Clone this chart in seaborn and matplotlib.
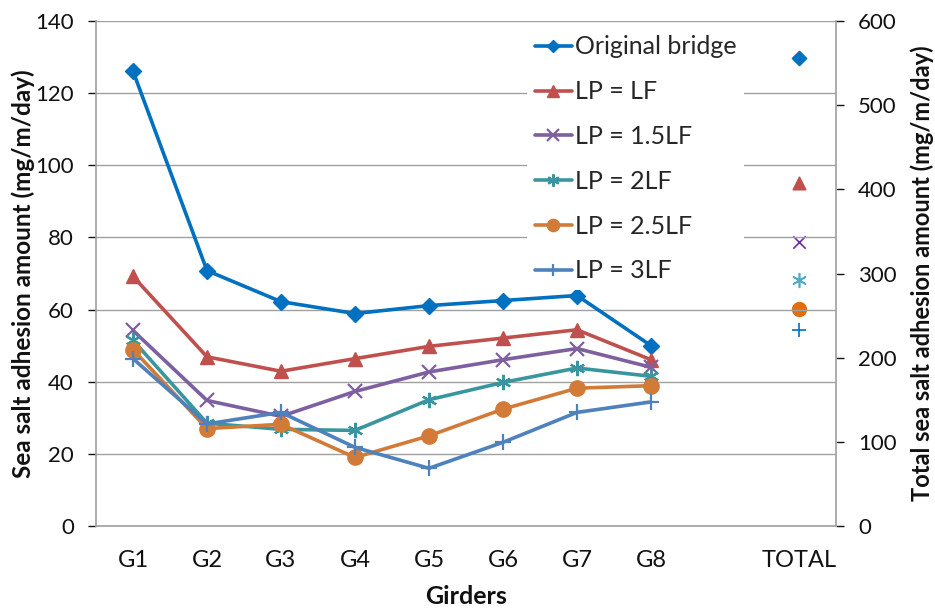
import matplotlib
matplotlib.use("Agg")
import matplotlib.pyplot as plt
import seaborn as sns
import numpy as np

# Categories along the x axis (blank slot separates girders from the total)
categories = ["G1", "G2", "G3", "G4", "G5", "G6", "G7", "G8", "", "TOTAL"]
girders = ["G1", "G2", "G3", "G4", "G5", "G6", "G7", "G8"]

series_names = ["Original bridge", "LP = LF", "LP = 1.5LF", "LP = 2LF", "LP = 2.5LF", "LP = 3LF"]

original = [126.1, 70.8, 62.2, 58.9, 61.1, 62.5, 63.9, 50.0]
lp_1 = [69.2, 46.9, 42.9, 46.4, 49.8, 52.1, 54.4, 46.1]
lp_15 = [54.2, 34.8, 30.4, 37.3, 42.7, 46.1, 49.2, 44.0]
lp_2 = [51.5, 28.5, 26.8, 26.5, 35.0, 39.8, 43.8, 41.5]
lp_25 = [48.9, 27.0, 28.2, 19.0, 25.0, 32.4, 38.2, 38.9]
lp_3 = [46.4, 28.3, 31.5, 21.8, 16.0, 23.2, 31.5, 34.4]

# Totals per case (right axis)
totals = [555.5, 407.8, 338.0, 292.5, 258.0, 233.0]

series_values = [original, lp_1, lp_15, lp_2, lp_25, lp_3]
line_colors = ["#0070C0", "#C0504D", "#7E5F9F", "#3A969E", "#D27B38", "#4F81BD"]
total_colors = ["#0070C0", "#C0504D", "#7030A0", "#4BACC6", "#E46C0A", "#0070C0"]
markers = ["D", "^", "x", (6, 2, 0), "o", "+"]
marker_sizes = [8, 10, 10, 11, 11, 11]

sns.set_theme(style="white")
plt.rcParams["font.family"] = ["Lato", "DejaVu Sans"]

fig = plt.figure(figsize=(9.35, 6.15), dpi=100)
ax = fig.add_axes([96 / 935, 1 - 526 / 615, 740 / 935, 505 / 615])
ax2 = ax.twinx()

x_pos = np.arange(len(girders))
for name, vals, col, mk, ms in zip(series_names, series_values, line_colors, markers, marker_sizes):
    thin = mk in ("x", "+") or isinstance(mk, tuple)
    sns.lineplot(x=x_pos, y=vals, ax=ax, color=col, marker=mk, markersize=ms,
                 linewidth=2.6, markeredgecolor=col, markeredgewidth=1.6 if thin else 1,
                 label=name, legend=False)

# Totals on the secondary axis at the TOTAL slot
total_x = categories.index("TOTAL")
for val, col, mk, ms in zip(totals, total_colors, markers, marker_sizes):
    sns.scatterplot(x=[total_x], y=[val], ax=ax2, color=col, marker=mk, s=ms ** 2 * 0.8,
                    edgecolor=col, linewidth=1.2, legend=False, zorder=3)

grid_c = "#A0A0A0"
text_c = "#111111"
ax.set_xlim(-0.5, len(categories) - 0.5)
ax.set_ylim(0, 140)
ax.set_yticks(np.arange(0, 141, 20))
ax2.set_ylim(0, 600)
ax2.set_yticks(np.arange(0, 601, 100))

ax.set_xticks(np.arange(len(categories)))
ax.set_xticklabels(categories)
ax.set_xticks(np.arange(-0.5, len(categories), 1), minor=True)
ax.tick_params(axis="x", which="major", length=0, pad=17, labelsize=17, colors=text_c)
ax.tick_params(axis="x", which="minor", length=6, width=1, color=grid_c, direction="out")
for a in (ax, ax2):
    a.tick_params(axis="y", length=6, width=1, direction="out", labelsize=16, pad=10, colors=text_c)
    for t in a.get_yticklines():
        t.set_color(grid_c)
for t in ax.xaxis.get_minorticklines():
    t.set_color(grid_c)

ax.yaxis.grid(True, color=grid_c, linewidth=1)
ax.set_axisbelow(True)
ax2.grid(False)

for a in (ax, ax2):
    for side in ("left", "right", "bottom", "top"):
        a.spines[side].set_color(grid_c)
        a.spines[side].set_linewidth(1.2)
    a.spines["top"].set_visible(False)
ax.spines["right"].set_visible(False)
ax2.spines["left"].set_visible(False)
ax2.spines["bottom"].set_visible(False)

ax.set_xlabel("Girders", fontsize=18, fontweight="bold", labelpad=10, color=text_c)
ax.set_ylabel("Sea salt adhesion amount (mg/m/day)", fontsize=17.5, fontweight="bold", labelpad=0, color=text_c)
ax2.set_ylabel("Total sea salt adhesion amount (mg/m/day)", fontsize=17, fontweight="bold", labelpad=10, color=text_c)

leg = ax.legend(loc="upper left", bbox_to_anchor=(527 / 935, 1 - 28 / 615), bbox_transform=fig.transFigure,
                frameon=True, fontsize=18, labelspacing=0.87, handlelength=1.5, handletextpad=0.12,
                borderpad=0.3, borderaxespad=0, markerscale=0.8)
leg.get_frame().set_facecolor("white")
leg.get_frame().set_edgecolor("none")
leg.get_frame().set_alpha(1)
leg.set_zorder(5)
ax.set_zorder(ax2.get_zorder() + 1)
ax.patch.set_visible(False)

fig.savefig("out.png", dpi=100)
